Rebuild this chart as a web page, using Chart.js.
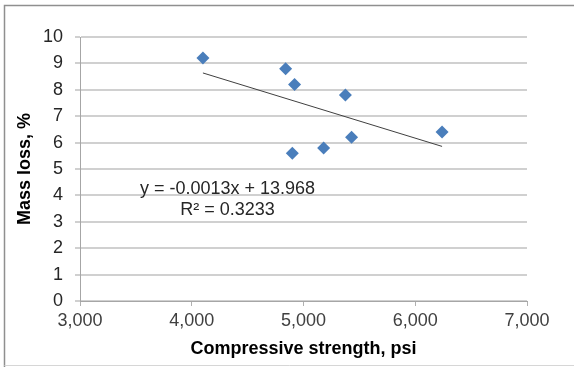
<!DOCTYPE html>
<html>
<head>
<meta charset="utf-8">
<style>
  html, body { margin: 0; padding: 0; background: #ffffff; }
  #wrap { width: 574px; height: 367px; }
</style>
<script src="https://cdn.jsdelivr.net/npm/chart.js@4/dist/chart.umd.min.js"></script>
</head>
<body>
<div id="wrap"><canvas id="chart" width="574" height="367"></canvas></div>
<script>
// Compressive strength (psi) against mass loss (%)
const strengthPsi = [4100, 4840, 4920, 4900, 5375, 5180, 5430, 6240];
const massLossPct = [9.2, 8.8, 8.2, 5.6, 7.8, 5.8, 6.2, 6.4];

// Linear trendline as reported
const trendSlope = -0.0013;
const trendIntercept = 13.968;
const trendLabel = ['y = -0.0013x + 13.968', 'R\u00B2 = 0.3233'];
const trendLabelAnchor = { x: 4320, y: 4.25 };

const xTicks = [3000, 4000, 5000, 6000, 7000];
const yTicks = [0, 1, 2, 3, 4, 5, 6, 7, 8, 9, 10];

const xMin = Math.min(...strengthPsi);
const xMax = Math.max(...strengthPsi);
const trendPoints = [xMin, xMax].map(x => ({ x, y: trendSlope * x + trendIntercept }));

const FONT = '"Liberation Sans", Arial, sans-serif';

const framePlugin = {
  id: 'frame',
  beforeDraw(chart) {
    const ctx = chart.ctx;
    ctx.save();
    ctx.fillStyle = '#ffffff';
    ctx.fillRect(0, 0, chart.width, chart.height);
    ctx.lineWidth = 1.5;
    ctx.strokeStyle = '#8f8f8f';
    ctx.beginPath();
    ctx.moveTo(4.5, chart.height);
    ctx.lineTo(4.5, 5.5);
    ctx.lineTo(chart.width, 5.5);
    ctx.stroke();
    ctx.lineWidth = 1;
    ctx.strokeStyle = '#d6d6d6';
    ctx.beginPath();
    ctx.moveTo(4.5, 365.5);
    ctx.lineTo(chart.width, 365.5);
    ctx.stroke();
    ctx.restore();
  }
};

const equationPlugin = {
  id: 'equation',
  afterDatasetsDraw(chart) {
    const ctx = chart.ctx;
    const xs = chart.scales.x, ys = chart.scales.y;
    const cx = xs.getPixelForValue(trendLabelAnchor.x);
    const cy = ys.getPixelForValue(trendLabelAnchor.y);
    ctx.save();
    ctx.font = '18px ' + FONT;
    ctx.fillStyle = '#262626';
    ctx.textAlign = 'center';
    ctx.textBaseline = 'middle';
    trendLabel.forEach((t, i) => ctx.fillText(t, cx, cy + i * 21));
    ctx.restore();
  }
};

new Chart(document.getElementById('chart'), {
  data: {
    datasets: [
      {
        type: 'scatter',
        data: strengthPsi.map((x, i) => ({ x, y: massLossPct[i] })),
        pointStyle: 'rectRot',
        pointRadius: 6.5,
        backgroundColor: '#4a7ebb',
        borderColor: '#4a7ebb',
        borderWidth: 0
      },
      {
        type: 'line',
        data: trendPoints,
        borderColor: '#404040',
        borderWidth: 1,
        pointRadius: 0,
        fill: false
      }
    ]
  },
  options: {
    responsive: false,
    animation: false,
    devicePixelRatio: 1,
    layout: { padding: { left: 0, top: 37, right: 47, bottom: 0 } },
    plugins: { legend: { display: false }, tooltip: { enabled: false } },
    scales: {
      x: {
        type: 'linear',
        min: 3000,
        max: 7000,
        afterFit(scale) { scale.height = 66; },
        afterBuildTicks(scale) { scale.ticks = xTicks.map(v => ({ value: v })); },
        ticks: {
          color: '#404040',
          font: { family: FONT, size: 18 },
          padding: 4,
          maxRotation: 0,
          callback: v => v.toLocaleString('en-US')
        },
        grid: { drawOnChartArea: false, drawTicks: true, tickLength: 5, color: '#b0b0b0', lineWidth: 1 },
        border: { color: '#a6a6a6', width: 1 },
        title: {
          display: true,
          text: 'Compressive strength, psi',
          color: '#000000',
          font: { family: FONT, size: 18, weight: 'bold' },
          padding: { top: 0, bottom: 7 }
        }
      },
      y: {
        type: 'linear',
        min: 0,
        max: 10,
        afterFit(scale) { scale.width = 80; },
        afterBuildTicks(scale) { scale.ticks = yTicks.map(v => ({ value: v })); },
        ticks: {
          color: '#262626',
          font: { family: FONT, size: 18 },
          padding: 12
        },
        grid: { drawOnChartArea: true, drawTicks: true, tickLength: 5, color: '#d0d0d0', lineWidth: 2 },
        border: { color: '#a6a6a6', width: 1 },
        title: {
          display: true,
          text: 'Mass loss, %',
          color: '#000000',
          font: { family: FONT, size: 18, weight: 'bold' },
          padding: { top: 14, bottom: 0 }
        }
      }
    }
  },
  plugins: [framePlugin, equationPlugin]
});
</script>
</body>
</html>
